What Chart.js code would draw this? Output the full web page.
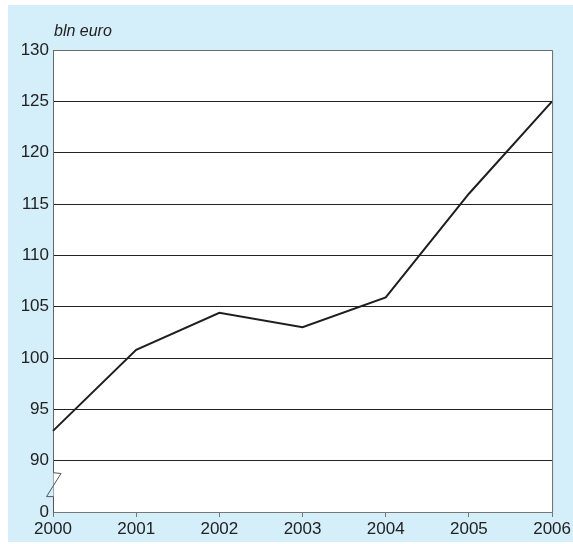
<!DOCTYPE html>
<html>
<head>
<meta charset="utf-8">
<script src="https://cdn.jsdelivr.net/npm/chart.js@4"></script>
<style>
html,body{margin:0;padding:0;background:#fff;}
#wrap{position:relative;width:573px;height:544px;}
canvas{display:block;}
</style>
</head>
<body>
<div id="wrap"><canvas id="c" width="573" height="544"></canvas></div>
<script>
const years = ['2000','2001','2002','2003','2004','2005','2006'];
const values = [92.9, 100.8, 104.4, 103.0, 105.9, 116.0, 125.0];
const yTickValues = [85, 90, 95, 100, 105, 110, 115, 120, 125, 130];
const yTickLabels = ['0', '90', '95', '100', '105', '110', '115', '120', '125', '130'];
const unitLabel = 'bln euro';

const FONT = "'Liberation Sans', Arial, sans-serif";

const bgPlugin = {
  id: 'bg',
  beforeDraw(chart) {
    const ctx = chart.ctx, a = chart.chartArea;
    ctx.save();
    ctx.fillStyle = '#ffffff';
    ctx.fillRect(0, 0, chart.width, chart.height);
    ctx.fillStyle = '#d4eefa';
    ctx.fillRect(8, 5, chart.width - 8, 537);
    ctx.fillStyle = '#ffffff';
    ctx.fillRect(a.left, a.top, a.right - a.left, a.bottom - a.top);
    ctx.restore();
  },
  afterDraw(chart) {
    const ctx = chart.ctx, a = chart.chartArea;
    const y = chart.scales.y;
    ctx.save();
    // unit label
    ctx.fillStyle = '#222';
    ctx.font = "italic 16px " + FONT;
    ctx.textBaseline = 'alphabetic';
    ctx.fillText(unitLabel, 54, 36);
    // border lines
    ctx.strokeStyle = '#6b6b6b';
    ctx.lineWidth = 1;
    ctx.beginPath();
    ctx.moveTo(a.left, a.top + 0.5); ctx.lineTo(a.right + 0.5, a.top + 0.5);
    ctx.lineTo(a.right + 0.5, a.bottom);
    ctx.stroke();
    // axis break on left axis
    const y90 = y.getPixelForValue(90), y85 = y.getPixelForValue(85);
    const h = y85 - y90;
    const x = a.left + 0.5;
    ctx.fillStyle = '#d4eefa';
    ctx.fillRect(a.left - 1, y90 + 1, 1.5, h - 2);
    ctx.beginPath();
    ctx.moveTo(x, y90);
    ctx.lineTo(x, y90 + h * 0.235);
    ctx.lineTo(x + 7.5, y90 + h * 0.25);
    ctx.lineTo(x - 7, y90 + h * 0.70);
    ctx.lineTo(x, y90 + h * 0.70);
    ctx.lineTo(x, y85);
    ctx.strokeStyle = '#555';
    ctx.stroke();
    ctx.restore();
  }
};

new Chart(document.getElementById('c'), {
  type: 'line',
  data: {
    labels: years,
    datasets: [{
      data: values,
      borderColor: '#1e1e1e',
      borderWidth: 2,
      pointRadius: 0,
      tension: 0,
      fill: false
    }]
  },
  options: {
    responsive: false,
    animation: false,
    devicePixelRatio: 1,
    layout: { padding: { top: 50, right: 20, left: 0, bottom: 0 } },
    plugins: { legend: { display: false }, tooltip: { enabled: false } },
    scales: {
      x: {
        type: 'category',
        offset: false,
        afterFit(s) { s.height = 32; },
        grid: {
          display: true,
          drawOnChartArea: false,
          drawTicks: true,
          tickLength: 5,
          color: '#777'
        },
        border: { display: true, color: '#777', width: 1 },
        ticks: {
          color: '#222',
          font: { family: FONT, size: 17 },
          padding: 2,
          maxRotation: 0,
          autoSkip: false
        }
      },
      y: {
        min: 85,
        max: 130,
        afterFit(s) { s.width = 53; },
        afterBuildTicks(s) { s.ticks = yTickValues.map(v => ({ value: v })); },
        grid: {
          color: (c) => (c.tick && (c.tick.value === 85 || c.tick.value === 130)) ? 'rgba(0,0,0,0)' : '#222',
          lineWidth: 1,
          drawTicks: false
        },
        border: { display: true, color: '#666', width: 1 },
        ticks: {
          color: '#222',
          font: { family: FONT, size: 17 },
          padding: 4,
          callback: (v) => {
            const i = yTickValues.indexOf(v);
            return i >= 0 ? yTickLabels[i] : '';
          }
        }
      }
    }
  },
  plugins: [bgPlugin]
});
</script>
</body>
</html>
